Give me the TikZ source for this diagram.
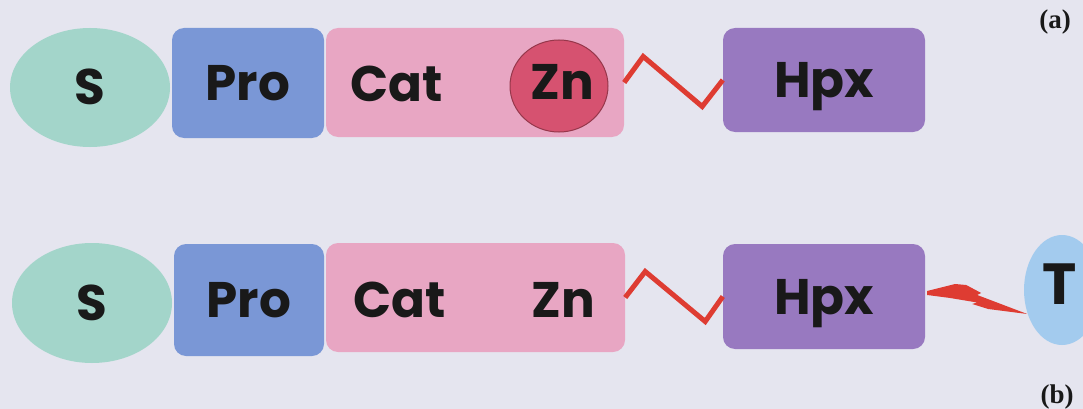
\documentclass[tikz,border=0pt]{standalone}
\usepackage{fontspec}
\newfontfamily\labfont{Poppins}
\newfontfamily\tmsfont{Liberation Serif}
\usetikzlibrary{shapes.geometric}
\definecolor{bgc}{RGB}{229,229,239}
\definecolor{sgreen}{RGB}{163,213,202}
\definecolor{problue}{RGB}{122,151,214}
\definecolor{catpink}{RGB}{232,166,195}
\definecolor{znred}{RGB}{214,82,112}
\definecolor{znedge}{RGB}{150,55,75}
\definecolor{hpxpurple}{RGB}{152,121,192}
\definecolor{tblue}{RGB}{163,203,238}
\definecolor{zigred}{RGB}{222,60,50}
\definecolor{txt}{RGB}{25,25,25}
\tikzset{
  lab/.style={font=\labfont\bfseries\fontsize{50}{50}\selectfont, text=txt, text height=35pt, text depth=0pt},
  box/.style={rectangle, rounded corners=12pt, draw=none, inner sep=0pt},
  oval/.style={ellipse, draw=none, inner sep=0pt},
  zig/.style={draw=zigred, line width=5pt, line join=miter},
  tag/.style={font=\tmsfont\bfseries\fontsize{27}{27}\selectfont, text=txt, inner sep=0pt}
}
\begin{document}
\begin{tikzpicture}[x=1pt,y=-1pt]
\useasboundingbox (0,0) rectangle (1083,409);
\clip (0,0) rectangle (1083,409);
\fill[bgc] (0,0) rectangle (1083,409);

% ---------- row (a)
\node[box, fill=catpink, minimum width=298pt, minimum height=109pt] (cata) at (475,82.5) {};
\node[oval, fill=sgreen, minimum width=160pt, minimum height=119pt, lab] (sa) at (90,87.5) {S};
\node[box, fill=problue, minimum width=152pt, minimum height=110pt, lab] (proa) at (248,83) {Pro};
\node[lab, inner sep=0pt] (cattxta) at (397,84) {Cat};
\node[ellipse, fill=znred, draw=znedge, line width=1pt, minimum width=98pt, minimum height=92pt, inner sep=0pt] (zna) at (559,86) {};
\node[lab, inner sep=0pt] (zntxta) at (562,82) {Zn};
\node[box, fill=hpxpurple, minimum width=202pt, minimum height=104pt, lab] (hpxa) at (824,80) {Hpx};
\draw[zig] (cata.east) -- ++(19,-26) -- ++(59,50) -- (hpxa.west);
\node[tag] (taga) at (1055,22) {(a)};

% ---------- row (b)
\node[box, fill=catpink, minimum width=299pt, minimum height=109pt] (catb) at (475.5,297.5) {};
\node[oval, fill=sgreen, minimum width=160pt, minimum height=120pt, lab] (sb) at (92,303) {S};
\node[box, fill=problue, minimum width=150pt, minimum height=112pt, lab] (prob) at (249,300) {Pro};
\node[lab, inner sep=0pt] (cattxtb) at (400,300) {Cat};
\node[lab, inner sep=0pt] (znb) at (563,300) {Zn};
\node[box, fill=hpxpurple, minimum width=202pt, minimum height=105pt, lab] (hpxb) at (824,296.5) {Hpx};
\node[oval, fill=tblue, minimum width=76pt, minimum height=110pt] (tb) at (1062,290) {};
\node[lab, font=\labfont\bfseries\fontsize{58}{58}\selectfont, text height=41pt, inner sep=0pt] (ttxt) at (1060,284) {T};
\draw[zig] (catb.east) -- ++(20,-26) -- ++(60,50) -- (hpxb.west);
% lightning bolt from Hpx to T
\fill[zigred] (hpxb.east) ++(2,-5.5) -- ++(28,-7) -- ++(11,1) -- ++(15,8) -- ++(-4,2)
  -- ++(50,19) -- ++(-39,-5) -- ++(-16,-5) -- ++(5,-1.5) -- ++(-27,-4.5) -- ++(-23,-3) -- cycle;
\node[tag] (tagb) at (1057,397) {(b)};
\end{tikzpicture}
\end{document}
